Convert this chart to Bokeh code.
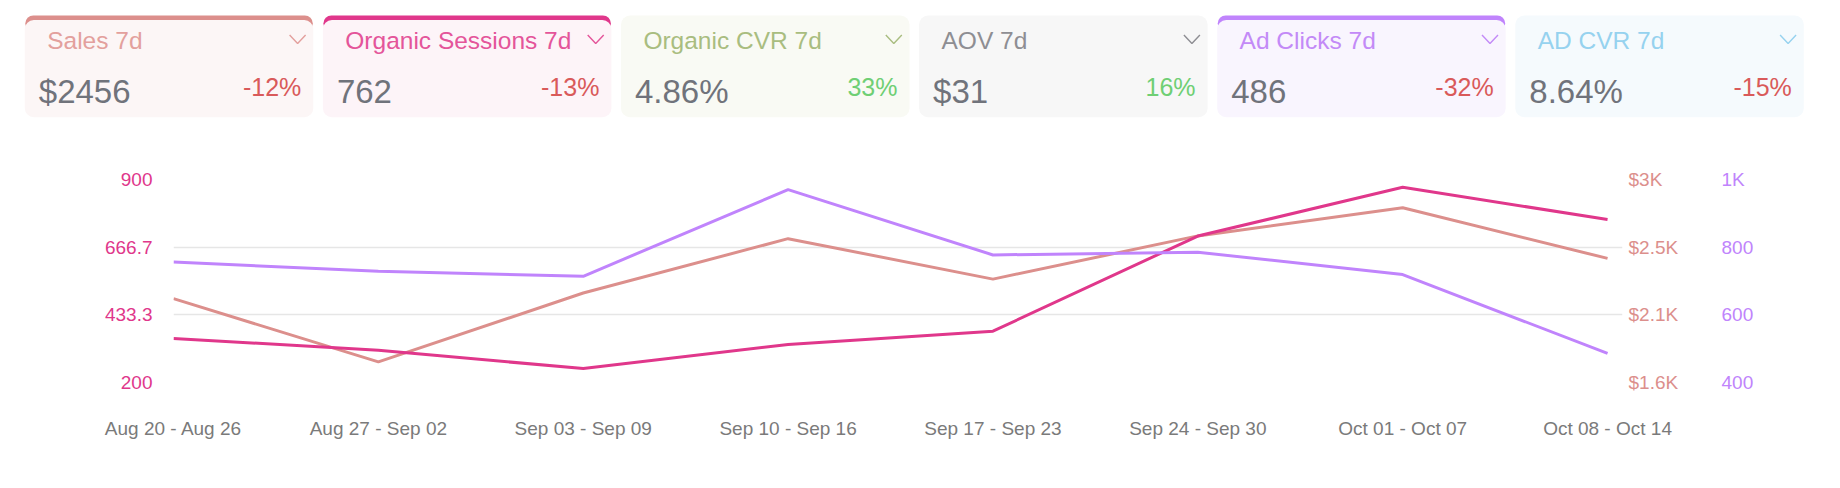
from bokeh.plotting import figure
from bokeh.models import ColumnDataSource, Range1d, LinearAxis, FixedTicker
from bokeh.embed import file_html
from bokeh.resources import INLINE
from bokeh.core.properties import value

# ---------------- data ----------------
weeks = ["Aug 20 - Aug 26", "Aug 27 - Sep 02", "Sep 03 - Sep 09", "Sep 10 - Sep 16",
         "Sep 17 - Sep 23", "Sep 24 - Sep 30", "Oct 01 - Oct 07", "Oct 08 - Oct 14"]
organic_sessions = [352, 311, 248, 331, 377, 705, 873, 762]
sales = [2178, 1742, 2217, 2592, 2313, 2611, 2805, 2456]
ad_clicks = [756, 729, 714, 970, 777, 785, 719, 486]

sessions_ticks = [200, 433.3, 666.7, 900]
sessions_tick_labels = ["200", "433.3", "666.7", "900"]
sales_ticks = [1600, 2066.7, 2533.3, 3000]
sales_tick_labels = ["$1.6K", "$2.1K", "$2.5K", "$3K"]
clicks_ticks = [400, 600, 800, 1000]
clicks_tick_labels = ["400", "600", "800", "1K"]

card_titles = ["Sales 7d", "Organic Sessions 7d", "Organic CVR 7d", "AOV 7d", "Ad Clicks 7d", "AD CVR 7d"]
card_values = ["$2456", "762", "4.86%", "$31", "486", "8.64%"]
card_deltas = ["-12%", "-13%", "33%", "16%", "-32%", "-15%"]

# ---------------- styles ----------------
FONT = value("Liberation Sans")
W = 1840
C_SESS = "#e0378b"
C_SALES = "#dc8f8c"
C_CLICKS = "#c084fc"
card_bg = ["#fcf6f6", "#fdf4f8", "#f9faf4", "#f7f7f7", "#f9f5fe", "#f5fafd"]
card_title_col = ["#e3a09d", "#e4559a", "#a9bd80", "#8e8e93", "#c38af7", "#96d2ef"]
card_accent = [C_SALES, C_SESS, None, None, C_CLICKS, None]
NEG, POS = "#d95a5a", "#6fcf74"

# ---------------- cards ----------------
CH = 125
cards = figure(width=W, height=CH, x_range=Range1d(0, W), y_range=Range1d(CH, 0),
               output_backend="svg", toolbar_location=None,
               x_axis_location=None, y_axis_location=None,
               min_border=0, outline_line_color=None)
cards.grid.visible = False

left0, pitch, cw, top, bot = 24.3, 298.1, 288.5, 15.0, 116.7
lefts = [left0 + i * pitch for i in range(len(card_titles))]
rights = [l + cw for l in lefts]

acc_idx = [i for i, c in enumerate(card_accent) if c]
cards.quad(left=[lefts[i] + 0.5 for i in acc_idx], right=[rights[i] - 0.5 for i in acc_idx],
           top=[top] * len(acc_idx), bottom=[top + 16] * len(acc_idx),
           fill_color=[card_accent[i] for i in acc_idx], line_color=None, border_radius=9)
bg_tops = [top + 4.5 if card_accent[i] else top for i in range(len(lefts))]
cards.quad(left=lefts, right=rights, top=bg_tops, bottom=[bot] * len(lefts),
           fill_color=card_bg, line_color=None, border_radius=9)

tsrc = ColumnDataSource(dict(x=[l + 22.4 for l in lefts], y=[40.3] * len(lefts),
                             t=card_titles, c=card_title_col))
cards.text(x="x", y="y", text="t", text_color="c", source=tsrc, text_font=FONT,
           text_font_size=value("24.5px"), text_baseline="alphabetic", text_align="left")
vsrc = ColumnDataSource(dict(x=[l + 14 for l in lefts], y=[91.0] * len(lefts), t=card_values))
cards.text(x="x", y="y", text="t", text_color="#70737b", source=vsrc, text_font=FONT,
           text_font_size=value("33px"), text_baseline="alphabetic", text_align="left")
dsrc = ColumnDataSource(dict(x=[r - 12 for r in rights], y=[86.0] * len(lefts), t=card_deltas,
                             c=[NEG if d.startswith("-") else POS for d in card_deltas]))
cards.text(x="x", y="y", text="t", text_color="c", source=dsrc, text_font=FONT,
           text_font_size=value("25px"), text_baseline="alphabetic", text_align="right")
cx = [r - 15.7 for r in rights]
cards.multi_line(xs=[[c - 8, c, c + 8] for c in cx], ys=[[34.5, 43, 34.5] for _ in cx],
                 line_color=card_title_col, line_width=1.4)

# ---------------- chart ----------------
PH = 488 - CH
src = ColumnDataSource(dict(x=list(range(len(weeks))), sess=organic_sessions,
                            sales=sales, clicks=ad_clicks))
p = figure(width=W, height=PH, x_range=Range1d(0, 7.073), y_range=Range1d(200, 900),
           output_backend="svg", toolbar_location=None,
           min_border_left=173, min_border_right=W - 173 - 1449,
           min_border_top=179 - CH, min_border_bottom=PH - (179 - CH) - 203,
           outline_line_color=None)
p.extra_y_ranges = {"sales": Range1d(1600, 3000), "clicks": Range1d(400, 1000)}

def style_axis(ax, color, standoff):
    ax.axis_line_color = None
    ax.major_tick_line_color = None
    ax.minor_tick_line_color = None
    ax.major_tick_in = 0
    ax.major_tick_out = 0
    ax.major_label_text_color = color
    ax.major_label_text_font = "Liberation Sans"
    ax.major_label_text_font_size = "19px"
    ax.major_label_standoff = standoff

ly = p.yaxis[0]
ly.ticker = FixedTicker(ticks=sessions_ticks)
ly.major_label_overrides = dict(zip(sessions_ticks, sessions_tick_labels))
style_axis(ly, "#e0378b", 21)

ax_sales = LinearAxis(y_range_name="sales", ticker=FixedTicker(ticks=sales_ticks),
                      major_label_overrides=dict(zip(sales_ticks, sales_tick_labels)))
style_axis(ax_sales, "#dc8f8c", 6)
p.add_layout(ax_sales, "right")

ax_clicks = LinearAxis(y_range_name="clicks", ticker=FixedTicker(ticks=clicks_ticks),
                       major_label_overrides=dict(zip(clicks_ticks, clicks_tick_labels)))
style_axis(ax_clicks, "#c084fc", 40)
p.add_layout(ax_clicks, "right")

xa = p.xaxis[0]
xa.ticker = FixedTicker(ticks=list(range(len(weeks))))
xa.major_label_overrides = {i: w for i, w in enumerate(weeks)}
style_axis(xa, "#7a7a7a", 35)

p.xgrid.visible = False
p.ygrid.ticker = FixedTicker(ticks=sessions_ticks)
p.ygrid.grid_line_color = "#e6e6e6"
p.ygrid.grid_line_width = 1.5

p.line("x", "sales", source=src, line_color=C_SALES, line_width=3, y_range_name="sales")
p.line("x", "sess", source=src, line_color=C_SESS, line_width=3)
p.line("x", "clicks", source=src, line_color=C_CLICKS, line_width=3, y_range_name="clicks")

open("out.html", "w").write(file_html([cards, p], INLINE))
